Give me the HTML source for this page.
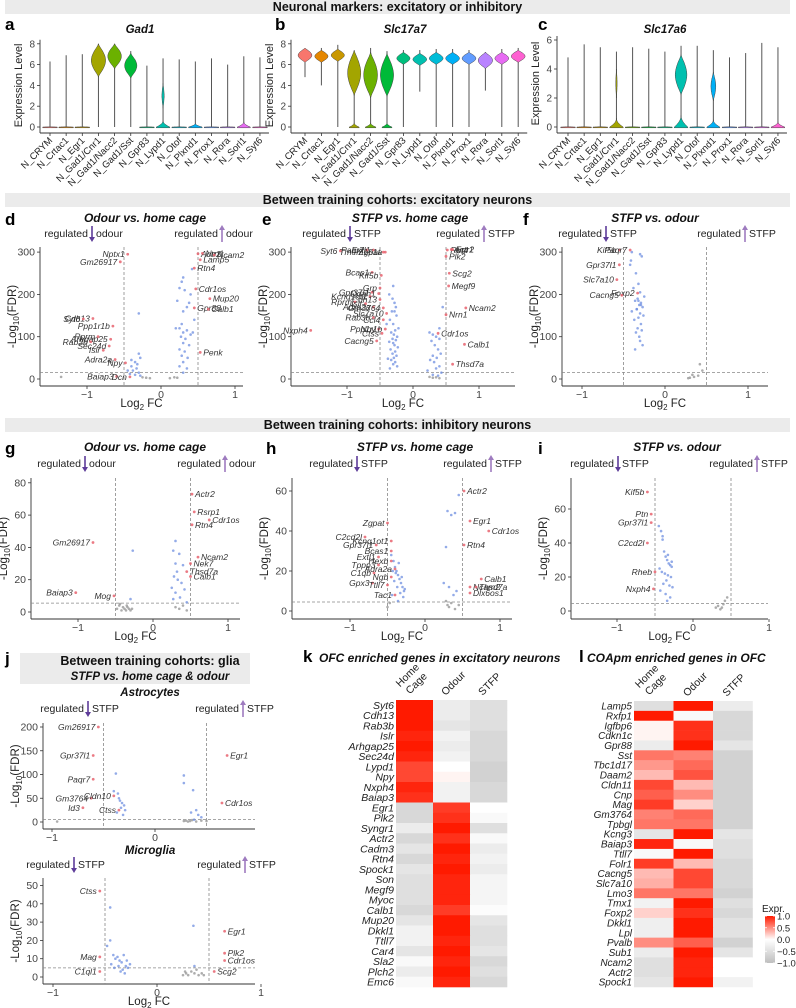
<!DOCTYPE html>
<html><head><meta charset="utf-8">
<style>
html,body{margin:0;padding:0;background:#fff;}
svg{display:block;font-family:"Liberation Sans",Arial,sans-serif;}
</style></head>
<body>
<svg id="fig" width="796" height="1008" viewBox="0 0 796 1008" xmlns="http://www.w3.org/2000/svg"></svg>
<script>
// ---------------- DATA ----------------
const clusters=["N_CRYM","N_Crtac1","N_Egr1","N_Gad1/Cnr1","N_Gad1/Nacc2","N_Gad1/Sst","N_Gpr83","N_Lypd1","N_Otof","N_Plxnd1","N_Prox1","N_Rora","N_Sorl1","N_Syt6"];
const clusterColors=["#F8766D","#E58700","#C99800","#A3A500","#6BB100","#00BA38","#00BF7D","#00C0AF","#00BCD8","#00B0F6","#619CFF","#B983FF","#E76BF3","#FD61D1"];
// Gad1
const gad1Max=[6.3,6.9,7.0,8.0,8.0,7.3,5.9,6.6,6.5,6.3,6.6,6.0,6.8,6.7];
const gad1Min=[0,0,0,0,0,0,0,0,0,0,0,0,0,0];
const gad1Mode=[0,0,0,6.4,6.8,5.9,0,3.0,0,0,0,0,0,0];
const gad1ModeH=[0,0,0,1.6,1.2,1.2,0,1.2,0,0,0,0,0,0];
const gad1ModeW=[0,0,0,0.44,0.42,0.38,0,0.07,0,0,0,0,0,0];
const gad1ZeroW=[0.45,0.45,0.45,0,0,0,0.45,0.42,0.45,0.42,0.45,0.45,0.4,0.45];
const gad1ZeroH=[0.03,0.03,0.03,0,0,0,0.03,0.6,0.03,0.35,0.03,0.03,0.5,0.03];
// Slc17a7
const s7Max=[7.6,7.6,7.9,7.2,7.6,7.3,7.4,7.4,7.5,7.5,7.4,7.2,7.5,7.6];
const s7Min=[4.8,4.0,0,0,0,0,0,3.4,0,0,0,3.5,0,0];
const s7Mode=[6.9,6.8,6.9,5.2,5.0,5.0,6.6,6.5,6.6,6.6,6.6,6.4,6.6,6.8];
const s7ModeH=[0.7,0.6,0.6,2.2,2.2,2.1,0.6,0.6,0.6,0.6,0.6,0.8,0.6,0.6];
const s7ModeW=[0.42,0.4,0.4,0.4,0.42,0.4,0.4,0.42,0.42,0.42,0.42,0.44,0.42,0.42];
const s7ZeroW=[0,0,0,0.3,0.32,0.3,0,0,0,0,0,0,0,0];
const s7ZeroH=[0,0,0,0.4,0.4,0.4,0,0,0,0,0,0,0,0];
// Slc17a6
const s6Max=[4.8,5.7,5.5,5.2,5.5,5.4,5.2,5.6,5.6,5.3,4.8,5.1,5.8,5.5];
const s6Min=[0,0,0,0,0,0,0,0,0,0,0,0,0,0];
const s6Mode=[0,0,0,3.0,0,0,0,3.6,0,2.8,0,0,0,0];
const s6ModeH=[0,0,0,1.0,0,0,0,1.4,0,1.0,0,0,0,0];
const s6ModeW=[0,0,0,0.04,0,0,0,0.36,0,0.15,0,0,0,0];
const s6ZeroW=[0.45,0.45,0.45,0.42,0.45,0.45,0.45,0.42,0.45,0.4,0.45,0.45,0.45,0.42];
const s6ZeroH=[0.03,0.03,0.03,0.6,0.03,0.03,0.03,0.8,0.03,0.5,0.03,0.03,0.03,0.35];

// d: Odour vs home cage (excitatory)
const dNames=["Nptx1","Gm26917","Cdh13","Syt6","Ppp1r1b","Rprm","Arhgap25","Rab3b","Sec24d","Islr","Adra2a","Npy","Baiap3","Dcn","Actr2","Nrn1","Ncam2","Rtn4","Lamp5","Cdr1os","Mup20","Gpr88","Calb1","Penk"];
const dX=[-0.45,-0.55,-0.92,-1.05,-0.65,-0.85,-0.68,-0.95,-0.7,-0.78,-0.62,-0.48,-0.6,-0.42,0.5,0.56,0.72,0.45,0.53,0.47,0.66,0.45,0.64,0.53];
const dY=[295,277,143,142,125,100,94,88,78,68,46,38,6,5,296,297,293,262,282,213,190,168,165,63];
const dBlueX=[-0.3,-0.3,-0.28,-0.35,-0.4,-0.33,-0.38,-0.3,-0.42,-0.35,-0.28,-0.45,-0.4,-0.32,0.3,0.28,0.25,0.32,0.42,0.4,0.22,0.35,0.3,0.28,0.25,0.35,0.3,0.4,0.27,0.33,0.3,0.38,0.25,0.32,0.28,0.36,0.3,0.25,0.35,0.3,0.45,0.43,0.2,0.38];
const dBlueY=[155,60,50,40,30,25,20,15,12,10,8,20,45,35,240,230,215,210,260,200,185,170,160,130,120,115,110,105,100,95,85,80,70,65,55,50,40,30,25,15,140,110,120,180];
const dGreyX=[-1.35,-0.25,-0.2,0.12,0.18,0.22,-0.15];
const dGreyY=[5,4,3,2,4,3,2];
// e: STFP vs home cage (excitatory)
const eNames=["Extl1","Zgpat","Syt6","Paqr7","Tmem151a","Bcas1","Kif5b","Grp","Gpr37l1","Ddah1","Kcnq1ot1","Cdh13","Rprm","Islr","Adra2a","Gm3764","Slc7a10","Rab3b","Ccl4","Npy","Ppp1r1b","Ctss","Nxph4","Cacng5","Rtn4","Egr1","Plk2","Actr2","Scg2","Megf9","Ncam2","Nrn1","Cdr1os","Calb1","Thsd7a"];
const eX=[-0.6,-0.45,-1.1,-0.7,-0.42,-0.62,-0.48,-0.5,-0.62,-0.52,-0.65,-0.5,-0.88,-0.72,-0.6,-0.45,-0.4,-0.6,-0.45,-0.52,-0.42,-0.47,-1.55,-0.55,0.52,0.6,0.5,0.58,0.55,0.54,0.8,0.5,0.38,0.78,0.6];
const eY=[305,300,303,305,300,252,245,215,205,202,195,188,182,178,170,168,155,145,140,118,118,108,115,90,305,306,290,306,250,220,168,152,108,82,35];
const eBlueX=[-0.3,-0.28,-0.32,-0.25,-0.35,-0.3,-0.22,-0.27,-0.33,-0.29,-0.24,-0.31,-0.26,-0.36,-0.3,-0.28,-0.23,-0.34,-0.27,-0.31,-0.25,-0.29,-0.38,-0.33,-0.27,-0.3,-0.24,-0.35,-0.28,-0.4,-0.36,-0.26,-0.31,0.25,0.3,0.35,0.4,0.28,0.33,0.38,0.42,0.3,0.36,0.26,0.32,0.4,0.35,0.22,0.43,0.3,0.38,0.45,0.4];
const eBlueY=[220,180,160,150,140,130,120,115,110,105,100,95,92,88,85,80,75,70,65,60,55,50,48,45,40,35,30,25,160,130,200,170,190,110,105,100,95,90,80,70,60,55,50,45,40,30,25,20,15,10,8,170,120];
const eGreyX=[0.3,0.35,0.4,0.25];
const eGreyY=[3,4,2,5];
// f: STFP vs odour (excitatory)
const fNames=["Kif5b","Paqr7","Gpr37l1","Slc7a10","Foxp2","Cacng5"];
const fX=[-0.55,-0.42,-0.55,-0.58,-0.33,-0.52];
const fY=[305,305,270,235,203,198];
const fBlueX=[-0.4,-0.3,-0.42,-0.35,-0.28,-0.32,-0.38,-0.3,-0.25,-0.33,-0.36,-0.29,-0.31,-0.27,-0.34,-0.4,-0.3,-0.26,-0.32,-0.37,-0.29,-0.33,-0.28,-0.35,-0.31,-0.3,-0.27,-0.36,-0.32,-0.29,-0.34,-0.41];
const fBlueY=[300,295,270,250,290,225,215,205,195,190,185,180,175,170,165,160,155,150,145,140,130,120,115,110,100,90,80,70,185,175,165,280];
const fGreyX=[0.3,0.35,0.4,0.45,0.42,0.28,0.33];
const fGreyY=[3,5,8,20,35,2,10];
// g: Odour vs home cage (inhibitory)
const gNames=["Actr2","Rsrp1","Rtn4","Cdr1os","Gm26917","Ncam2","Nek7","Thsd7a","Calb1","Mog","Baiap3"];
const gX=[0.52,0.55,0.52,0.75,-0.8,0.6,0.5,0.45,0.5,-0.52,-1.03];
const gY=[73,62,54,57,43,34,30,25,22,10,12];
const gBlueX=[-0.27,0.3,0.27,0.35,0.3,0.4,0.28,0.33,0.38,0.25,0.42,0.3,0.36,0.27,0.45,0.32,-0.3];
const gBlueY=[38,44,38,36,30,29,22,20,18,15,14,12,9,8,6,25,8];
const gGreyX=[-0.48,-0.45,-0.42,-0.4,-0.38,-0.36,-0.34,-0.32,-0.3,-0.28,-0.44,-0.35,0.3,0.35,0.4,0.45];
const gGreyY=[2,4,1,3,2,1,3,2,1,2,5,4,3,2,4,1];
// h: STFP vs home cage (inhibitory)
const hNames=["Actr2","Egr1","Cdr1os","Rtn4","Zgpat","C2cd2l","Kcnq1ot1","Gpr37l1","Bcas1","Extl1","Hexb","Tppp3","Adra2a","C1qb","Ngb","Gpx3","Ttll7","Tac1","Calb1","Ncam2","Thsd7a","Dlx6os1"];
const hX=[0.52,0.6,0.85,0.52,-0.5,-0.8,-0.45,-0.65,-0.45,-0.62,-0.45,-0.62,-0.4,-0.68,-0.45,-0.7,-0.5,-0.4,0.75,0.6,0.68,0.6];
const hY=[60,45,40,33,44,37,35,33,30,27,25,23,21,19,17,14,13,8,16,12,12,9];
const hBlueX=[-0.45,-0.42,-0.4,-0.38,-0.36,-0.34,-0.32,-0.3,-0.28,-0.44,-0.41,-0.37,-0.33,-0.29,-0.35,-0.39,-0.31,-0.27,-0.43,-0.36,0.3,0.35,0.4,0.28,0.45,0.32,0.42,0.25,0.38];
const hBlueY=[28,25,22,20,18,16,14,12,10,8,15,12,9,7,24,19,17,11,20,5,50,48,49,32,58,12,10,14,8];
const hGreyX=[-0.5,-0.47,0.3,0.32,0.35,0.4,0.45,0.28];
const hGreyY=[2,4,3,2,4,1,3,5];
// i: STFP vs odour (inhibitory)
const iNames=["Kif5b","Ptn","Gpr37l1","C2cd2l","Rheb","Nxph4"];
const iX=[-0.6,-0.55,-0.55,-0.6,-0.5,-0.52];
const iY=[70,57,52,40,23,13];
const iBlueX=[-0.45,-0.42,-0.4,-0.38,-0.36,-0.34,-0.32,-0.3,-0.28,-0.44,-0.41,-0.37,-0.33,-0.29,-0.35,-0.39,-0.31,-0.27,-0.43,-0.36,-0.3,-0.34,-0.4,-0.33,-0.28];
const iBlueY=[50,47,42,35,32,30,28,27,26,25,23,22,21,20,18,16,15,14,12,10,8,6,44,33,29];
const iGreyX=[0.3,0.33,0.36,0.4,0.42,0.45,0.38];
const iGreyY=[2,3,1,4,6,8,2];
// j astrocytes
const aNames=["Gm26917","Gpr37l1","Paqr7","Gm3764","Id3","Cldn10","Ctss","Egr1","Cdr1os"];
const aX=[-0.55,-0.6,-0.6,-0.62,-0.7,-0.4,-0.35,0.7,0.65];
const aY=[200,140,90,50,30,55,25,140,40];
const aBlueX=[-0.38,-0.4,-0.36,-0.34,-0.32,-0.3,-0.33,-0.37,-0.31,-0.29,-0.35,0.28,0.28,0.37,0.35,0.4,0.42,0.45,0.38];
const aBlueY=[102,65,60,45,40,35,30,20,15,25,50,98,82,67,20,25,15,10,5];
const aGreyX=[-0.95,0.28,0.3,0.32,0.34,0.36,0.4,0.45,0.5];
const aGreyY=[1,2,3,1,2,4,1,3,2];
// j microglia
const mNames=["Ctss","Mag","C1ql1","Egr1","Plk2","Cdr1os","Scg2"];
const mX=[-0.55,-0.55,-0.55,0.65,0.65,0.65,0.55];
const mY=[47,11,3,25,13,9,3];
const mBlueX=[-0.45,-0.45,-0.48,-0.42,-0.4,-0.38,-0.36,-0.34,-0.32,-0.3,-0.28,-0.26,-0.41,-0.37,-0.33,-0.29,-0.44,-0.35,-0.31,0.35,0.36];
const mBlueY=[38,20,17,12,10,11,9,8,12,6,5,7,5,6,4,9,7,3,2,28,6];
const mGreyX=[0.25,0.28,0.3,0.33,0.36,0.4,0.43,0.45,0.27,0.38];
const mGreyY=[1,2,1,3,2,1,2,1,3,4];

// heatmaps
const kGenes=["Syt6","Cdh13","Rab3b","Islr","Arhgap25","Sec24d","Lypd1","Npy","Nxph4","Baiap3","Egr1","Plk2","Syngr1","Actr2","Cadm3","Rtn4","Spock1","Son","Megf9","Myoc","Calb1","Mup20","Dkkl1","Ttll7","Car4","Sla2","Plch2","Emc6"];
const kHome=[1,1,1,0.95,1,0.95,0.8,0.8,0.95,0.9,-0.6,-0.6,-0.3,-0.6,-0.4,-0.6,-0.4,-0.5,-0.5,-0.5,-0.6,-0.4,-0.2,-0.2,-0.4,-0.1,-0.3,-0.1];
const kOdour=[-0.3,-0.3,-0.4,-0.2,-0.3,-0.2,0,0.05,-0.2,-0.2,0.85,0.9,1,0.9,1,0.95,1,0.95,0.95,0.95,0.85,1,1,0.95,1,0.95,1,0.95];
const kSTFP=[-0.5,-0.5,-0.5,-0.6,-0.6,-0.6,-0.7,-0.7,-0.6,-0.6,0,-0.1,-0.5,-0.1,-0.3,-0.2,-0.3,-0.15,-0.15,-0.15,-0.05,-0.4,-0.5,-0.5,-0.4,-0.6,-0.5,-0.6];
const lGenes=["Lamp5","Rxfp1","Igfbp6","Cdkn1c","Gpr88","Sst","Tbc1d17","Daam2","Cldn11","Cnp","Mag","Gm3764","Tpbgl","Kcng3","Baiap3","Ttll7","Folr1","Cacng5","Slc7a10","Lmo3","Tmx1","Foxp2","Dkkl1","Lpl","Pvalb","Sub1","Ncam2","Actr2","Spock1"];
const lHome=[-0.5,1,0.05,0.05,-0.3,0.6,0.45,0.3,0.8,0.7,0.85,0.55,0.6,-0.4,0.95,-0.1,0.85,0.3,0.35,0.6,-0.2,0.2,-0.25,-0.25,0.5,-0.3,-0.5,-0.5,-0.4];
const lOdour=[1,-0.1,0.9,0.9,1,0.55,0.65,0.75,0.3,0.5,0.2,0.65,0.6,1,-0.1,1,0.3,0.8,0.8,0.6,1,0.9,1,1,0.7,1,0.95,0.95,1];
const lSTFP=[-0.3,-0.6,-0.6,-0.6,-0.4,-0.7,-0.7,-0.7,-0.7,-0.7,-0.7,-0.7,-0.7,-0.4,-0.5,-0.5,-0.6,-0.6,-0.6,-0.7,-0.5,-0.6,-0.45,-0.45,-0.7,-0.4,0,0,-0.2];
const hmCols=["Home Cage","Odour","STFP"];
const legendTicks=[1.0,0.5,0.0,-0.5,-1.0];

// ---------------- DRAWING ----------------
const NS="http://www.w3.org/2000/svg";
const svg=document.getElementById('fig');
function el(tag,attrs,parent,text){
  const e=document.createElementNS(NS,tag);
  for(const k in attrs) e.setAttribute(k,attrs[k]);
  if(text!==undefined) e.textContent=text;
  (parent||svg).appendChild(e);
  return e;
}
function grp(name,parent){
  const g=el('g',{},parent);
  
  
  return g;
}
function txt(p,x,y,s,opt){
  const o=Object.assign({x:x,y:y,'font-size':10,fill:'#222'},opt||{});
  return el('text',o,p,s);
}

// title bars
function bar(name,x,y,w,h,label,ty){
  const g=grp(name);
  el('rect',{x:x,y:y,width:w,height:h,fill:'#ebebeb'},g);
  txt(g,x+w/2,ty,label,{'font-size':12.5,'font-weight':'bold','text-anchor':'middle',fill:'#111'});
}
bar('section-title-markers',5,0,785,14,'Neuronal markers: excitatory or inhibitory',11);
bar('section-title-excitatory',5,193,785,14,'Between training cohorts: excitatory neurons',204);
bar('section-title-inhibitory',5,418,785,14,'Between training cohorts: inhibitory neurons',429);

// panel letters
[['a',5,30],['b',275,30],['c',538,30],['d',5,225],['e',262,225],['f',523,225],['g',5,454],['h',266,454],['i',538,454],['j',5,664],['k',303,662],['l',579,662]].forEach(p=>{
  const t=txt(svg,p[1],p[2],p[0],{'font-size':17,'font-weight':'bold',fill:'#000'});
  
  
});

// violin panels
function violinPanel(name,title,titleX,axX,firstX,sp,y0,uy,ticks,mx,mn,mode,mh,mw,zw,zh){
  const g=grp(name);
  const tt=txt(g,titleX,33,title,{'font-size':11.5,'font-weight':'bold','font-style':'italic','text-anchor':'middle',fill:'#111'});
  
  
  const Y=v=>y0-v*uy;
  const right=firstX+sp*13+9;
  el('line',{x1:axX,y1:Y(ticks[ticks.length-1])-4,x2:axX,y2:Y(0)+6,stroke:'#333','stroke-width':0.9},g);
  el('line',{x1:axX,y1:Y(0)+6,x2:right,y2:Y(0)+6,stroke:'#333','stroke-width':0.9},g);
  ticks.forEach(t=>{
    el('line',{x1:axX-3,y1:Y(t),x2:axX,y2:Y(t),stroke:'#333','stroke-width':0.8},g);
    txt(g,axX-5,Y(t)+3.5,String(t),{'font-size':10,'text-anchor':'end',fill:'#444'});
  });
  const yl=txt(g,0,0,'Expression Level',{'font-size':11,'text-anchor':'middle',fill:'#222',transform:`translate(${axX-18},${(Y(0)+Y(ticks[ticks.length-1]))/2}) rotate(-90)`});
  
  
  clusters.forEach((c,i)=>{
    const cx=firstX+i*sp;
    const vg=grp('violin-'+c.toLowerCase().replace(/[^a-z0-9]+/g,'-'),g);
    el('line',{x1:cx,y1:Y(mn[i]),x2:cx,y2:Y(mx[i]),stroke:'#555','stroke-width':1},vg);
    if(zw[i]>0){
      const w=zw[i]*sp, h=Math.max(zh[i],0.03);
      let pts=[];
      for(let k=0;k<=10;k++){const t=k/10;pts.push([cx+w*Math.pow(1-t,2),Y(h*t)]);}
      let d=`M${cx-w},${Y(0)+0.8} L${cx+w},${Y(0)+0.8} `;
      pts.forEach(p=>d+=`L${p[0].toFixed(1)},${p[1].toFixed(1)} `);
      for(let k=10;k>=0;k--){const t=k/10;d+=`L${(cx-w*Math.pow(1-t,2)).toFixed(1)},${Y(h*t).toFixed(1)} `;}
      el('path',{d:d+'Z',fill:clusterColors[i],stroke:'#444','stroke-width':0.5},vg);
    }
    if(mw[i]>0){
      const w=mw[i]*sp;
      let right=[],left=[];
      for(let k=0;k<=20;k++){
        const t=-1+k/10;
        const ww=w*Math.pow(1-t*t,1.4);
        const yy=Y(mode[i]+t*mh[i]);
        right.push(`${(cx+ww).toFixed(1)},${yy.toFixed(1)}`);
        left.unshift(`${(cx-ww).toFixed(1)},${yy.toFixed(1)}`);
      }
      el('path',{d:'M'+right.join(' L')+' L'+left.join(' L')+'Z',fill:clusterColors[i],stroke:'#444','stroke-width':0.5},vg);
    }
    el('line',{x1:cx,y1:Y(0)+6,x2:cx,y2:Y(0)+9,stroke:'#333','stroke-width':0.8},vg);
    txt(vg,0,0,c,{'font-size':9.5,'text-anchor':'end',fill:'#222',transform:`translate(${cx+3},${Y(0)+14}) rotate(-45)`});
  });
}
violinPanel('violin-gad1','Gad1',140,40,50,16.15,127,10.4,[0,2,4,6,8],gad1Max,gad1Min,gad1Mode,gad1ModeH,gad1ModeW,gad1ZeroW,gad1ZeroH);
violinPanel('violin-slc17a7','Slc17a7',405,291,305,16.4,127,10.4,[0,2,4,6,8],s7Max,s7Min,s7Mode,s7ModeH,s7ModeW,s7ZeroW,s7ZeroH);
violinPanel('violin-slc17a6','Slc17a6',665,557,568,16.15,127,14.5,[0,2,4,6],s6Max,s6Min,s6Mode,s6ModeH,s6ModeW,s6ZeroW,s6ZeroH);

// volcano plots
function volcano(cfg,names,xs,ys,bx,by,gx,gy){
  const g=grp(cfg.name);
  const X=v=>cfg.x0+v*cfg.ux, Y=v=>cfg.y0-v*cfg.uy;
  if(cfg.title){
    const t=txt(g,cfg.titleX,cfg.titleY,cfg.title,{'font-size':cfg.titleSize||12,'font-weight':'bold','font-style':'italic','text-anchor':'middle',fill:'#111'});
    
    
  }
  const lab=cfg.lab;
  const ay=cfg.annY;
  const ag=grp('regulated-annotation',g);
  txt(ag,cfg.arL-4,ay,'regulated',{'font-size':10.5,'text-anchor':'end',fill:'#222'});
  el('line',{x1:cfg.arL,y1:ay-11,x2:cfg.arL,y2:ay+2,stroke:'#5e3c99','stroke-width':1.6},ag);
  el('path',{d:`M${cfg.arL-3},${ay} L${cfg.arL+3},${ay} L${cfg.arL},${ay+5}Z`,fill:'#5e3c99'},ag);
  txt(ag,cfg.arL+4,ay,lab,{'font-size':10.5,fill:'#222'});
  txt(ag,cfg.arR-4,ay,'regulated',{'font-size':10.5,'text-anchor':'end',fill:'#222'});
  el('line',{x1:cfg.arR,y1:ay-7,x2:cfg.arR,y2:ay+5,stroke:'#9e7bbf','stroke-width':1.6},ag);
  el('path',{d:`M${cfg.arR-3},${ay-7} L${cfg.arR+3},${ay-7} L${cfg.arR},${ay-12}Z`,fill:'#9e7bbf'},ag);
  txt(ag,cfg.arR+4,ay,lab,{'font-size':10.5,fill:'#222'});
  el('line',{x1:cfg.left,y1:cfg.top,x2:cfg.left,y2:cfg.bottom,stroke:'#333','stroke-width':0.9},g);
  el('line',{x1:cfg.left,y1:cfg.bottom,x2:cfg.right,y2:cfg.bottom,stroke:'#333','stroke-width':0.9},g);
  cfg.yt.forEach(t=>{
    el('line',{x1:cfg.left-3,y1:Y(t),x2:cfg.left,y2:Y(t),stroke:'#333','stroke-width':0.8},g);
    txt(g,cfg.left-5,Y(t)+3.5,String(t),{'font-size':10.5,'text-anchor':'end',fill:'#444'});
  });
  cfg.xt.forEach(t=>{
    el('line',{x1:X(t),y1:cfg.bottom,x2:X(t),y2:cfg.bottom+3,stroke:'#333','stroke-width':0.8},g);
    txt(g,X(t),cfg.bottom+12,t<0?'\u2212'+Math.abs(t):String(t),{'font-size':10.5,'text-anchor':'middle',fill:'#444'});
  });
  if(cfg.xTitle!==false){
    const xt=el('text',{x:(cfg.left+cfg.right)/2,y:cfg.bottom+21,'font-size':11.5,'text-anchor':'middle',fill:'#222'},g);
    
    
    el('tspan',{},xt,'Log');el('tspan',{'font-size':8,dy:3},xt,'2');el('tspan',{dy:-3},xt,' FC');
  }
  const yt=el('text',{'font-size':11.5,'text-anchor':'middle',fill:'#222',transform:`translate(${cfg.left-24},${(cfg.top+cfg.bottom)/2}) rotate(-90)`},g);
  
  
  el('tspan',{},yt,'-Log');el('tspan',{'font-size':8,dy:3},yt,'10');el('tspan',{dy:-3},yt,'(FDR)');
  el('line',{x1:X(-0.5),y1:cfg.top,x2:X(-0.5),y2:cfg.bottom,stroke:'#888','stroke-width':0.8,'stroke-dasharray':'3,2'},g);
  el('line',{x1:X(0.5),y1:cfg.top,x2:X(0.5),y2:cfg.bottom,stroke:'#888','stroke-width':0.8,'stroke-dasharray':'3,2'},g);
  el('line',{x1:cfg.left,y1:Y(cfg.thr),x2:cfg.right,y2:Y(cfg.thr),stroke:'#888','stroke-width':0.8,'stroke-dasharray':'3,2'},g);
  const pg=grp('points',g);
  gx.forEach((v,i)=>{const c=el('circle',{cx:X(v),cy:Y(gy[i]),r:1.3,fill:'#999','fill-opacity':0.8},pg);});
  bx.forEach((v,i)=>{const c=el('circle',{cx:X(v),cy:Y(by[i]),r:1.3,fill:'#6f8fe0','fill-opacity':0.75},pg);});
  names.forEach((n,i)=>{
    const px=X(xs[i]),py=Y(ys[i]);
    const c=el('circle',{cx:px,cy:py,r:1.4,fill:'#e8636f','fill-opacity':0.85},pg);
    
    
    const left=xs[i]<0;
    txt(pg,px+(left?-3:3),py+3,n,{'font-size':8.5,'font-style':'italic','text-anchor':left?'end':'start',fill:'#333'});
  });
}
const rowE={y0:379,uy:0.423,top:247,bottom:386,yt:[0,100,200,300],thr:15,annY:237,titleY:222};
volcano(Object.assign({name:'volcano-d',title:'Odour vs. home cage',titleX:145,x0:161,ux:74,left:40,right:243,xt:[-1,0,1],lab:'odour',arL:92,arR:222},rowE),dNames,dX,dY,dBlueX,dBlueY,dGreyX,dGreyY);
volcano(Object.assign({name:'volcano-e',title:'STFP vs. home cage',titleX:410,x0:413,ux:66,left:291,right:515,xt:[-1,0,1],lab:'STFP',arL:350,arR:484},rowE),eNames,eX,eY,eBlueX,eBlueY,eGreyX,eGreyY);
volcano(Object.assign({name:'volcano-f',title:'STFP vs. odour',titleX:655,x0:665,ux:83,left:562,right:768,xt:[-1,0,1],lab:'STFP',arL:606,arR:745},rowE),fNames,fX,fY,fBlueX,fBlueY,fGreyX,fGreyY);
volcano({name:'volcano-g',title:'Odour vs. home cage',titleX:145,titleY:451,x0:153,ux:75,y0:612,uy:1.615,left:31,right:240,top:478,bottom:619,xt:[-1,0,1],yt:[0,20,40,60,80],thr:5.5,lab:'odour',arL:85,arR:225,annY:467},gNames,gX,gY,gBlueX,gBlueY,gGreyX,gGreyY);
volcano({name:'volcano-h',title:'STFP vs. home cage',titleX:415,titleY:451,x0:425,ux:75,y0:611,uy:2.0,left:292,right:512,top:478,bottom:619,xt:[-1,0,1],yt:[0,20,40,60],thr:4.5,lab:'STFP',arL:357,arR:491,annY:467},hNames,hX,hY,hBlueX,hBlueY,hGreyX,hGreyY);
volcano({name:'volcano-i',title:'STFP vs. odour',titleX:677,titleY:451,x0:693,ux:76,y0:611,uy:1.7,left:571,right:768,top:478,bottom:619,xt:[-1,0,1],yt:[0,20,40,60],thr:4.5,lab:'STFP',arL:618,arR:757,annY:467},iNames,iX,iY,iBlueX,iBlueY,iGreyX,iGreyY);

// glia
const gl=grp('section-title-glia');
el('rect',{x:20,y:653,width:230,height:31,fill:'#ebebeb'},gl);
txt(gl,150,665,'Between training cohorts: glia',{'font-size':12.5,'font-weight':'bold','text-anchor':'middle',fill:'#111'});
txt(gl,150,680,'STFP vs. home cage & odour',{'font-size':11.5,'font-weight':'bold','font-style':'italic','text-anchor':'middle',fill:'#111'});
volcano({name:'volcano-astrocytes',title:'Astrocytes',titleX:150,titleY:696,titleSize:11.5,x0:155,ux:103,y0:822,uy:0.475,left:43,right:255,top:723,bottom:829,xt:[-1,0],yt:[0,50,100,150,200],thr:5,lab:'STFP',arL:88,arR:243,annY:712,xTitle:false},aNames,aX,aY,aBlueX,aBlueY,aGreyX,aGreyY);
volcano({name:'volcano-microglia',title:'Microglia',titleX:150,titleY:854,titleSize:11.5,x0:157,ux:104,y0:977,uy:1.83,left:43,right:255,top:878,bottom:984,xt:[-1,0,1],yt:[0,10,20,30,40,50],thr:5,lab:'STFP',arL:74,arR:245,annY:868},mNames,mX,mY,mBlueX,mBlueY,mGreyX,mGreyY);

// heatmaps
function colorFor(v){
  v=Math.max(-1,Math.min(1,v));
  let r,g,b;
  if(v>=0){ r=255; g=Math.round(255-(255-26)*v); b=Math.round(255-255*v); }
  else { const t=-v; r=Math.round(255-(255-190)*t); g=r; b=r; }
  return `rgb(${r},${g},${b})`;
}
function heatmap(name,title,titleX,genes,cols,x0,y0,cw,rh,fs){
  const g=grp(name);
  const t=txt(g,titleX,662,title,{'font-size':12,'font-weight':'bold','font-style':'italic',fill:'#111'});
  
  
  hmCols.forEach((c,j)=>{
    const cx=x0+cw*j+cw/2;
    const lt=el('text',{'font-size':10.5,fill:'#222',transform:`translate(${cx-6},${y0-4}) rotate(-45)`},g);
    
    
    if(c==='Home Cage'){
      el('tspan',{x:0,y:-12},lt,'Home');el('tspan',{x:2,y:0},lt,'Cage');
    } else el('tspan',{x:0,y:0},lt,c);
  });
  genes.forEach((gname,i)=>{
    const y=y0+i*rh;
    txt(g,x0-2,y+rh/2+fs*0.36,gname,{'font-size':fs,'font-style':'italic','text-anchor':'end',fill:'#222'});
    cols.forEach((arr,j)=>{
      const r=el('rect',{x:x0+cw*j,y:y,width:cw+0.3,height:rh+0.3,fill:colorFor(arr[i])},g);
      
      
    });
  });
}
heatmap('heatmap-k','OFC enriched genes in excitatory neurons',319,kGenes,[kHome,kOdour,kSTFP],396,700,37,10.25,10.5);
heatmap('heatmap-l','COApm enriched genes in OFC',587,lGenes,[lHome,lOdour,lSTFP],634,701,39.5,9.86,10);

// legend
const lg=grp('heatmap-legend');
txt(lg,762,912,'Expr.',{'font-size':10,fill:'#222'});
const gradId='exprGrad';
const defs=el('defs',{},svg);
const gr=el('linearGradient',{id:gradId,x1:0,y1:0,x2:0,y2:1},defs);
[1,0.5,0,-0.5,-1].forEach((v,k)=>el('stop',{offset:(k*25)+'%','stop-color':colorFor(v)},gr));
el('rect',{x:765,y:916,width:10,height:47,fill:`url(#${gradId})`},lg);
legendTicks.forEach(v=>{
  const y=916+(1-v)/2*47;
  el('line',{x1:765,y1:y,x2:767,y2:y,stroke:'#fff','stroke-width':0.8},lg);
  el('line',{x1:773,y1:y,x2:775,y2:y,stroke:'#fff','stroke-width':0.8},lg);
  txt(lg,777,y+3.5,v<0?'\u2212'+Math.abs(v).toFixed(1):v.toFixed(1),{'font-size':9.5,fill:'#222'});
});
</script>
</body></html>
